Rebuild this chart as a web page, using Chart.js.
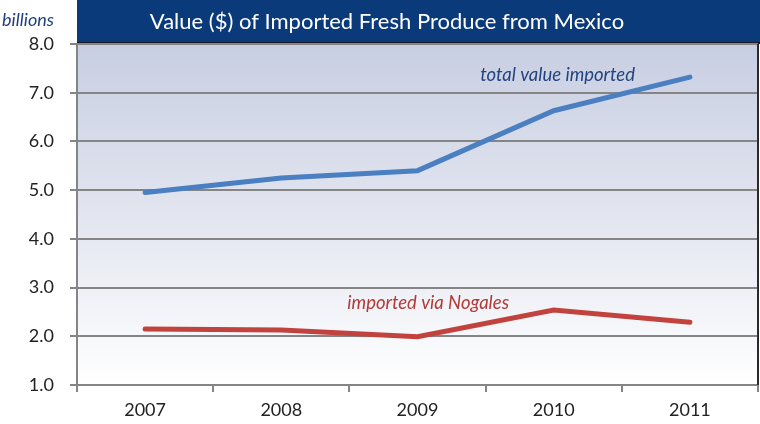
<!DOCTYPE html>
<html>
<head>
<meta charset="utf-8">
<script src="https://cdn.jsdelivr.net/npm/chart.js@4/dist/chart.umd.min.js"></script>
<style>
    html, body { margin: 0; padding: 0; background: #ffffff; }
    #wrap { width: 760px; height: 424px; position: relative; }
</style>
</head>
<body>
<div id="wrap"><canvas id="produceChart" width="760" height="424"></canvas></div>
<script>
// ========================================
// DATA
// ========================================
const years = ['2007', '2008', '2009', '2010', '2011'];
const totalImported = [4.95, 5.25, 5.40, 6.63, 7.32];
const viaNogales = [2.15, 2.13, 1.99, 2.54, 2.29];
const yTicks = [1, 2, 3, 4, 5, 6, 7, 8];

const titleText = 'Value ($) of Imported Fresh Produce from Mexico';
const unitText = 'billions';
const totalLabel = 'total value imported';
const nogalesLabel = 'imported via Nogales';

const FONT = 'Lato, "Open Sans", sans-serif';

// background gradient, title bar and the two line labels
const decorPlugin = {
    id: 'decor',
    beforeDraw(chart) {
        const { ctx, chartArea: a, width } = chart;
        ctx.save();
        const grad = ctx.createLinearGradient(0, a.top, 0, a.bottom);
        grad.addColorStop(0, '#c8cee2');
        grad.addColorStop(0.55, '#e5e8f1');
        grad.addColorStop(1, '#ffffff');
        ctx.fillStyle = grad;
        ctx.fillRect(a.left, a.top, a.right - a.left, a.bottom - a.top);

        // title bar
        ctx.fillStyle = '#0b3a7b';
        ctx.fillRect(a.left, 0, width - a.left, a.top);
        ctx.fillStyle = '#1a1a2a';
        ctx.fillRect(a.left, a.top - 2, width - a.left, 2);
        ctx.fillStyle = '#ffffff';
        ctx.font = '22px ' + FONT;
        ctx.textAlign = 'center';
        ctx.textBaseline = 'middle';
        ctx.fillText(titleText, 387, 22);

        ctx.fillStyle = '#1f3f7f';
        ctx.font = 'italic 18px ' + FONT;
        ctx.textAlign = 'left';
        ctx.fillText(unitText, 2, 20);
        ctx.restore();
    },
    afterDraw(chart) {
        const { ctx, chartArea: a, scales } = chart;
        ctx.save();
        // right border of plot
        ctx.strokeStyle = '#2a2a2a';
        ctx.lineWidth = 2;
        ctx.beginPath();
        ctx.moveTo(a.right, a.top);
        ctx.lineTo(a.right, a.bottom);
        ctx.stroke();

        const xAt = (i) => {
            const lo = Math.floor(i);
            const p0 = scales.x.getPixelForValue(lo);
            const p1 = scales.x.getPixelForValue(lo + 1);
            return p0 + (i - lo) * (p1 - p0);
        };
        ctx.font = 'italic 18.5px ' + FONT;
        ctx.textAlign = 'left';
        ctx.textBaseline = 'middle';
        ctx.fillStyle = '#24447f';
        ctx.fillText(totalLabel, xAt(2.46), scales.y.getPixelForValue(7.37));
        ctx.fillStyle = '#b23a36';
        ctx.fillText(nogalesLabel, xAt(1.485), scales.y.getPixelForValue(2.68));
        ctx.restore();
    }
};

new Chart(document.getElementById('produceChart'), {
    type: 'line',
    data: {
        labels: years,
        datasets: [
            {
                label: 'total value imported',
                data: totalImported,
                borderColor: '#4a7fc2',
                borderWidth: 5,
                borderCapStyle: 'round',
                pointRadius: 0,
                tension: 0
            },
            {
                label: 'imported via Nogales',
                data: viaNogales,
                borderColor: '#c2433d',
                borderWidth: 5,
                borderCapStyle: 'round',
                pointRadius: 0,
                tension: 0
            }
        ]
    },
    options: {
        responsive: false,
        animation: false,
        layout: { padding: { top: 44, right: 2, left: 0, bottom: 0 } },
        plugins: {
            legend: { display: false },
            tooltip: { enabled: false }
        },
        scales: {
            x: {
                offset: true,
                grid: {
                    offset: true,
                    drawOnChartArea: false,
                    color: '#858585',
                    lineWidth: 2,
                    tickLength: 7
                },
                border: { color: '#858585', width: 2 },
                ticks: {
                    color: '#222222',
                    font: { family: FONT, size: 18 },
                    padding: 7
                },
                afterFit(scale) { scale.height = 39; }
            },
            y: {
                min: 1,
                max: 8,
                afterBuildTicks(scale) {
                    scale.ticks = yTicks.map(v => ({ value: v }));
                },
                grid: {
                    color: '#858585',
                    lineWidth: 2,
                    tickLength: 7
                },
                border: { color: '#858585', width: 2 },
                ticks: {
                    color: '#222222',
                    font: { family: FONT, size: 18 },
                    padding: 16,
                    callback: (v) => Number(v).toFixed(1)
                },
                afterFit(scale) { scale.width = 77; }
            }
        }
    },
    plugins: [decorPlugin]
});
</script>
</body>
</html>
